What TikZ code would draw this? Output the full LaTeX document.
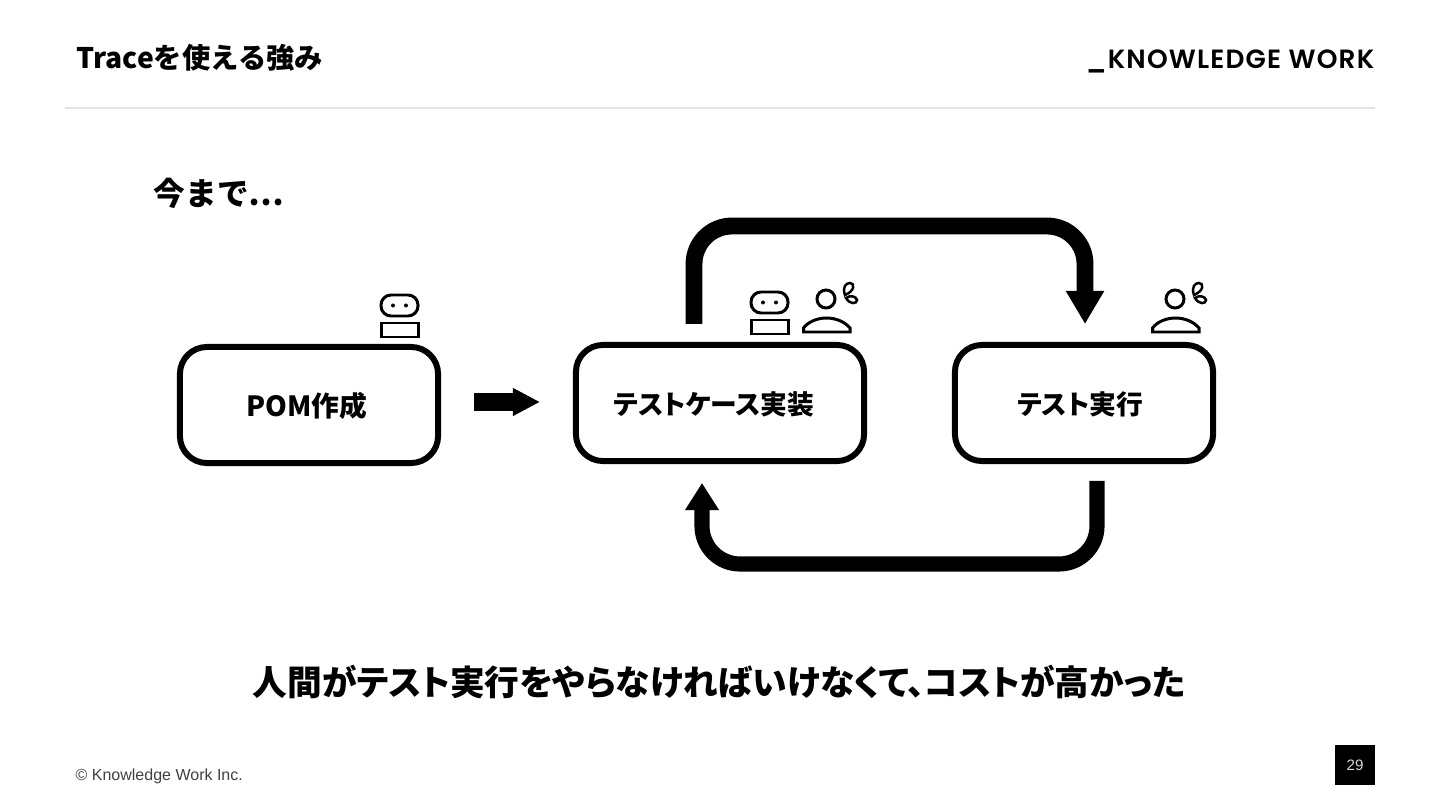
\documentclass[tikz,border=0pt]{standalone}
\usepackage{fontspec}
\setmainfont{Noto Sans CJK JP}
\newfontfamily\paltfont[RawFeature=+palt]{Noto Sans CJK JP}
\newfontfamily\logofont[LetterSpace=4.5]{Poppins SemiBold}
\newfontfamily\footfont{Liberation Sans}
\usetikzlibrary{arrows.meta}

\tikzset{
    stagebox/.style={draw=black, line width=1.7pt, rounded corners=0.27cm, minimum width=2.58cm, minimum height=1.16cm},
    stagelabel/.style={font=\paltfont\bfseries\fontsize{7.6pt}{10pt}\selectfont, inner sep=0},
    heading/.style={font=\bfseries\fontsize{9pt}{11pt}\selectfont, inner sep=0},
    iconline/.style={draw=black, line width=0.85pt},
    looparrow/.style={line width=4.8pt, rounded corners=0.38cm, -{Triangle[width=0.36cm, length=0.33cm]}},
}

\newcommand{\robot}[2]{
    \begin{scope}[shift={(#1,#2)}]
        \draw[iconline, rounded corners=0.1cm] (0,0) rectangle (37,21);
        \fill (12,10.5) circle (2);
        \fill (25,10.5) circle (2);
        \draw[iconline] (0,28) rectangle (37,42);
    \end{scope}
}
\newcommand{\person}[2]{
    \begin{scope}[shift={(#1,#2)}]
        \draw[iconline] (23,9) circle (9);
        \draw[iconline] (0.5,42) -- (47,42) -- (47,38) .. controls (42,32) and (33,28) .. (23.5,28) .. controls (14,28) and (5,32) .. (0.5,38) -- cycle;
        \draw[iconline, line width=0.7pt] (42,5) .. controls (39,-3) and (43,-7) .. (47,-7) .. controls (52,-7) and (52,1) .. (42,5) -- cycle;
        \draw[iconline, line width=0.7pt] (43,8) .. controls (47,5) and (53,6) .. (54,10) .. controls (54,14) and (47,15) .. (43,8) -- cycle;
    \end{scope}
}

\begin{document}
\begin{tikzpicture}[x=0.01cm, y=-0.01cm]
    \useasboundingbox (0,0) rectangle (1440,810);

    % Header
    \node[anchor=west, inner sep=0, font=\bfseries\fontsize{8.05pt}{10pt}\selectfont] (title) at (76,58) {Traceを使える強み};
    \node[anchor=east, inner sep=0, font=\logofont\fontsize{7.5pt}{9pt}\selectfont] (logo) at (1375,61) {\_KNOWLEDGE WORK};
    \draw[black!10, line width=0.5pt] (65,108) -- (1375,108);

    \node[anchor=west, heading] (before) at (153,193) {今まで…};

    % Stages
    \node[stagebox] (pom) at (309,405) {};
    \node[stagebox, minimum width=2.88cm] (impl) at (720,403) {};
    \node[stagebox] (exec) at (1084,403) {};
    \node[stagelabel, font=\paltfont\bfseries\fontsize{7.9pt}{10pt}\selectfont] (pomlabel) at (307,406) {POM作成};
    \node[stagelabel] (impllabel) at (714,404) {テストケース実装};
    \node[stagelabel] (execlabel) at (1080,404) {テスト実行};

    % Who does what
    \robot{381}{295}
    \robot{751}{292}
    \person{803}{290}
    \person{1152}{290}

    % Arrows
    \coordinate (pomout) at (474,402);
    \coordinate (implin) at (540,402);
    \draw[line width=5pt, -{Triangle[width=0.26cm, length=0.27cm]}] (pomout) -- (implin);

    \coordinate (topfrom) at (694,324);
    \coordinate (topto) at (1085,324);
    \draw[looparrow] (topfrom) -- (694,226) -- (1085,226) -- (topto);

    \coordinate (bottomfrom) at (1097,481);
    \coordinate (bottomto) at (702,483);
    \draw[looparrow, line width=4.3pt, -{Triangle[width=0.32cm, length=0.27cm]}] (bottomfrom) -- (1097,564) -- (702,564) -- (bottomto);

    \node[inner sep=0, font=\paltfont\bfseries\fontsize{9.86pt}{12pt}\selectfont] (summary) at (719,682) {人間がテスト実行をやらなければいけなくて、コストが高かった};

    % Footer
    \node[anchor=west, inner sep=0, text=black!75, font=\footfont\fontsize{4.55pt}{6pt}\selectfont] (copyright) at (75,776.5) {© Knowledge Work Inc.};
    \node[fill=black, text=white!85!black, minimum size=0.4cm, inner sep=0, font=\footfont\fontsize{4.3pt}{6pt}\selectfont] (page) at (1355,765) {29};
\end{tikzpicture}
\end{document}
